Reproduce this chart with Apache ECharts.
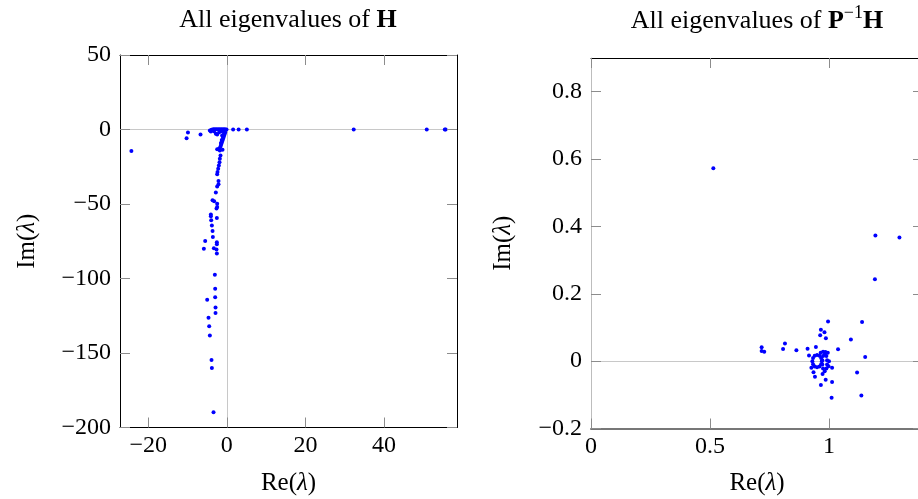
<!DOCTYPE html>
<html><head><meta charset="utf-8">
<script src="https://cdn.jsdelivr.net/npm/echarts@6/dist/echarts.min.js"></script>
<style>html,body{margin:0;padding:0;background:#fff}#c{width:918px;height:499px}</style>
</head><body><div id="c"></div>
<script>
// Eigenvalues of H (real, imaginary parts)
const hRe = [-24.3,-9.9,-10.25,-6.7,1.6,3.0,5.1,32.3,50.9,55.5,55.7,
 -4.32,-3.9,-3.47,-3.05,-2.63,-2.2,-1.78,-1.36,-0.93,-0.51,-0.08,-4.07,-3.3,-2.8,-2.46,-1.95,-1.36,-0.76,-0.25,-0.42,
 -0.59,-0.76,-0.93,-1.1,-1.27,-1.44,-1.61,-1.95,-2.46,-1.1,-1.78,-0.7,-1.0,-1.3,-1.5,-1.2,
 -1.61,-1.78,-1.86,-2.03,-2.2,-2.37,-2.46,-2.12,-2.12,-2.46,-2.8,-3.64,-3.22,-2.46,-2.46,-2.63,-2.54,
 -4.07,-4.07,-3.98,-3.81,-3.64,-3.56,-5.51,-5.85,-3.3,-2.54,-2.54,-2.63,-2.54,
 -3.05,-2.97,-2.97,-5.0,-2.88,-2.88,-4.66,-4.49,-4.32,-3.9,-3.81,-3.39];
const hIm = [-14.5,-2.0,-5.8,-3.3,0,0,0,0,0,0,0,
 -0.67,-0.22,0.2,0.2,0.2,0.2,0.2,0.2,0.2,0.1,0,-1.3,-1.1,-2.9,-3.3,-1.8,-1.1,-0.7,-0.2,-2.0,
 -3.3,-4.7,-6.0,-7.4,-8.7,-10.0,-11.4,-12.7,-13.2,-13.6,-14.1,-2.5,-5.0,-7.0,-9.0,-4.0,
 -17.4,-19.6,-21.9,-24.1,-26.3,-28.6,-30.1,-34.6,-36.8,-38.2,-42.2,-47.5,-48.2,-49.8,-52.0,-53.1,-59.4,
 -57.1,-58.3,-60.9,-64.5,-68.1,-72.1,-74.8,-80.1,-79.7,-75.7,-77.0,-80.6,-83.3,
 -97.5,-106.9,-112.5,-114.3,-119.4,-123.2,-126.3,-132.1,-138.2,-154.7,-160.0,-189.7];
// Eigenvalues of P^-1 H
const pRe = [0.514,1.195,1.296,1.193,0.996,1.139,0.966,0.981,0.963,0.987,1.092,0.815,0.807,0.717,0.717,0.728,
 0.863,0.910,0.945,1.038,0.916,1.152,1.013,0.926,0.935,0.941,0.973,0.986,1.013,0.966,1.118,1.011,1.136,
 0.950,0.960,0.967,0.970,0.967,0.960,0.950,0.940,0.933,0.930,0.933,0.940,
 0.982,0.989,0.992,0.992,0.989,0.982,0.975,0.972,0.972,0.975,
 0.965,0.975,0.985,0.995,1.000,0.998];
const pIm = [0.573,0.373,0.367,0.243,0.118,0.116,0.093,0.086,0.077,0.068,0.064,0.052,0.036,0.041,0.030,0.028,
 0.032,0.037,0.042,0.035,0.017,0.012,-0.020,-0.020,-0.033,-0.046,-0.038,-0.055,-0.062,-0.071,-0.034,-0.109,-0.102,
 0.018,0.016,0.009,0.000,-0.009,-0.016,-0.018,-0.016,-0.009,0.000,0.009,0.016,
 0.020,0.015,0.003,-0.010,-0.022,-0.030,-0.022,-0.010,0.003,0.015,
 0.025,0.028,0.027,0.025,0.000,-0.015];

const hXTicks = [-20, 0, 20, 40];
const hYTicks = [-200, -150, -100, -50, 0, 50];
const pXTicks = [0, 0.5, 1];
const pYTicks = [-0.2, 0, 0.2, 0.4, 0.6, 0.8];
const hXRange = [-27.2, 58.6], hYRange = [-200, 50];
const pXRange = [0, 1.395], pYRange = [-0.2, 0.9];

const FONT = 'Liberation Serif';
const FS = 24;
const NFS = 25;
const fmt = v => String(Math.round(v * 1000) / 1000).replace('-', '\u2212');
const nameRich = { i: { fontStyle: 'italic', fontFamily: FONT, fontSize: NFS, color: '#000' } };

function axis(kind, grid, pos, range, ticks, labels, lineColor, lineWidth, name, nameGap) {
  const a = {
    type: 'value', gridIndex: grid, position: pos, min: range[0], max: range[1],
    axisLine: { show: true, onZero: false, lineStyle: { color: lineColor, width: lineWidth } },
    axisTick: { show: true, inside: true, length: 10, customValues: ticks, lineStyle: { color: '#8c8c8c', width: 1 } },
    axisLabel: { show: labels, customValues: ticks, formatter: fmt, fontFamily: FONT, fontSize: FS, color: '#000', margin: kind === 'x' ? 6 : 9 },
    splitLine: { show: false },
    z: 4
  };
  if (name) {
    a.name = name;
    a.nameLocation = 'middle';
    a.nameGap = nameGap;
    a.nameTextStyle = { fontFamily: FONT, fontSize: NFS, color: '#000', rich: nameRich };
  }
  return a;
}

const zeroLines = {
  silent: true, symbol: 'none', z: 1,
  label: { show: false },
  lineStyle: { color: '#c8c8c8', width: 1, type: 'solid' },
  emphasis: { disabled: true },
  data: [{ xAxis: 0 }, { yAxis: 0 }]
};

const TFS = 26;
const titleRich = {
  n: { fontFamily: FONT, fontSize: TFS, fontWeight: 'normal', color: '#000', lineHeight: 30, verticalAlign: 'bottom' },
  b: { fontFamily: FONT, fontSize: TFS, fontWeight: 'bold', color: '#000', lineHeight: 30, verticalAlign: 'bottom' },
  s: { fontFamily: FONT, fontSize: 18, fontWeight: 'normal', color: '#000', lineHeight: 30, verticalAlign: 'top' }
};

const option = {
  animation: false,
  backgroundColor: '#fff',
  title: [
    { text: '{n|All eigenvalues of }{b|H}', left: 283, top: -2, textAlign: 'center', textStyle: { fontWeight: 'normal', rich: titleRich } },
    { text: '{n|All eigenvalues of }{b|P}{s|\u22121}{b|H}', left: 752, top: -1, textAlign: 'center', textStyle: { fontWeight: 'normal', rich: titleRich } }
  ],
  grid: [
    { left: 120, top: 55, width: 337, height: 372.5, outerBoundsMode: 'none', containLabel: false },
    { left: 591, top: 58, width: 332, height: 370.5, outerBoundsMode: 'none', containLabel: false }
  ],
  xAxis: [
    axis('x', 0, 'bottom', hXRange, hXTicks, true, '#000', 1, 'Re({i|\u03bb})', 43),
    axis('x', 0, 'top', hXRange, hXTicks, false, '#000', 1),
    axis('x', 1, 'bottom', pXRange, pXTicks, true, '#777', 2, 'Re({i|\u03bb})', 42),
    axis('x', 1, 'top', pXRange, pXTicks, false, '#000', 1)
  ],
  yAxis: [
    axis('y', 0, 'left', hYRange, hYTicks, true, '#000', 1, 'Im({i|\u03bb})', 80),
    axis('y', 0, 'right', hYRange, hYTicks, false, '#000', 1),
    axis('y', 1, 'left', pYRange, pYTicks, true, '#bdbdbd', 1, 'Im({i|\u03bb})', 75),
    axis('y', 1, 'right', pYRange, pYTicks, false, '#000', 1)
  ],
  series: [
    {
      type: 'scatter', xAxisIndex: 0, yAxisIndex: 0, z: 3,
      symbol: 'circle', symbolSize: 4, itemStyle: { color: '#0000ff', opacity: 1 },
      data: hRe.map((x, i) => [x, hIm[i]]),
      markLine: zeroLines
    },
    {
      type: 'scatter', xAxisIndex: 2, yAxisIndex: 2, z: 3,
      symbol: 'circle', symbolSize: 4, itemStyle: { color: '#0000ff', opacity: 1 },
      data: pRe.map((x, i) => [x, pIm[i]]),
      markLine: zeroLines
    }
  ]
};

const chart = echarts.init(document.getElementById('c'), null, { renderer: 'canvas' });
chart.setOption(option);
</script>
</body></html>
